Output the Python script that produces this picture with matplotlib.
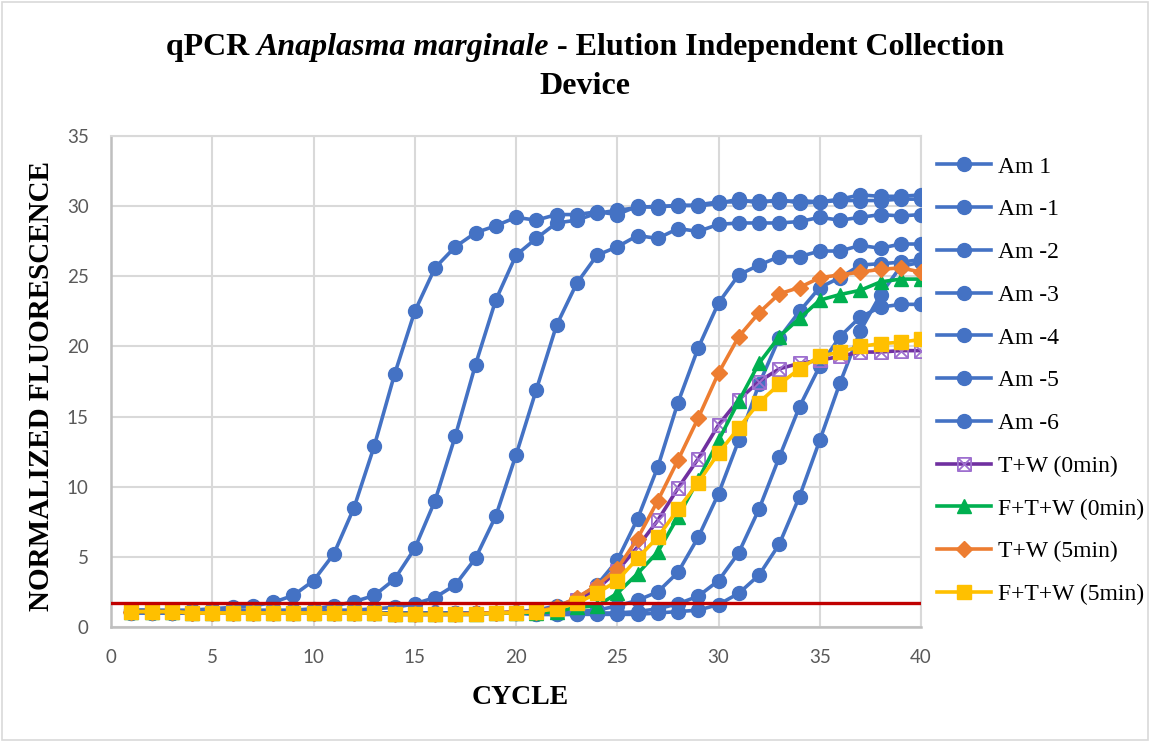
import numpy as np
import matplotlib
matplotlib.use("Agg")
import matplotlib.pyplot as plt
from matplotlib.path import Path
from matplotlib.patches import Rectangle

cycles = np.arange(1, 41)

am_1 = [1.2, 1.2, 1.2, 1.2, 1.3, 1.4, 1.5, 1.75, 2.25, 3.3,
        5.2, 8.5, 12.9, 18.0, 22.5, 25.6, 27.1, 28.1, 28.6, 29.2,
        29.0, 29.4, 29.4, 29.6, 29.4, 30.0, 29.9, 30.1, 30.0, 30.2,
        30.5, 30.2, 30.5, 30.2, 30.3, 30.5, 30.8, 30.7, 30.7, 30.8]
am_m1 = [1.2, 1.2, 1.1, 1.1, 1.1, 1.2, 1.2, 1.2, 1.2, 1.3,
         1.5, 1.8, 2.25, 3.4, 5.6, 9.0, 13.6, 18.7, 23.3, 26.5,
         27.7, 28.8, 29.0, 29.5, 29.7, 29.9, 30.0, 30.0, 30.1, 30.3,
         30.3, 30.4, 30.3, 30.4, 30.3, 30.4, 30.4, 30.4, 30.5, 30.5]
am_m2 = [1.1, 1.1, 1.1, 1.0, 1.0, 1.1, 1.1, 1.1, 1.1, 1.1,
         1.2, 1.2, 1.3, 1.4, 1.65, 2.1, 3.0, 4.9, 7.9, 12.25,
         16.9, 21.5, 24.5, 26.5, 27.1, 27.9, 27.7, 28.4, 28.2, 28.7,
         28.8, 28.8, 28.8, 28.9, 29.2, 29.0, 29.2, 29.4, 29.3, 29.4]
am_m3 = [1.1, 1.1, 1.0, 1.0, 1.0, 1.0, 1.0, 1.0, 1.0, 1.0,
         1.0, 1.0, 1.0, 1.0, 1.0, 1.0, 1.0, 1.0, 1.0, 1.1,
         1.2, 1.5, 2.0, 3.0, 4.75, 7.7, 11.4, 16.0, 19.9, 23.1,
         25.1, 25.8, 26.4, 26.4, 26.8, 26.8, 27.2, 27.0, 27.3, 27.3]
am_m4 = [1.1, 1.0, 1.0, 1.0, 1.0, 1.0, 1.0, 1.0, 1.0, 1.0,
         1.0, 1.0, 1.0, 1.0, 1.0, 1.0, 1.0, 1.0, 1.0, 1.0,
         1.0, 1.0, 1.1, 1.2, 1.5, 1.9, 2.5, 3.9, 6.4, 9.5,
         13.3, 17.3, 20.6, 22.5, 24.2, 24.9, 25.8, 25.9, 26.0, 26.2]
am_m5 = [1.0, 1.0, 1.0, 1.0, 1.0, 1.0, 1.0, 1.0, 1.0, 1.0,
         1.0, 1.0, 1.0, 1.0, 1.0, 1.0, 1.0, 1.0, 1.0, 1.0,
         0.9, 0.9, 0.9, 1.0, 1.0, 1.1, 1.3, 1.65, 2.2, 3.3,
         5.3, 8.4, 12.1, 15.7, 18.6, 20.7, 22.1, 22.8, 23.0, 23.0]
am_m6 = [1.0, 1.0, 1.0, 1.0, 1.0, 1.0, 1.0, 1.0, 1.0, 1.0,
         1.0, 1.0, 1.0, 1.0, 1.0, 1.0, 1.0, 1.0, 1.0, 1.0,
         0.9, 0.9, 0.9, 0.9, 0.9, 0.9, 1.0, 1.1, 1.2, 1.6,
         2.4, 3.7, 5.9, 9.3, 13.3, 17.4, 21.1, 23.7, 25.7, 26.0]
tw_0 = [1.1, 1.1, 1.1, 1.0, 1.0, 1.0, 1.0, 1.0, 1.0, 1.0,
        1.0, 1.0, 1.0, 0.9, 0.9, 0.9, 0.9, 0.9, 1.0, 1.0,
        1.1, 1.3, 1.9, 2.7, 4.0, 5.7, 7.6, 9.9, 12.0, 14.4,
        16.2, 17.5, 18.4, 18.8, 19.0, 19.3, 19.6, 19.6, 19.7, 19.7]
ftw_0 = [1.1, 1.1, 1.1, 1.0, 1.0, 1.0, 1.0, 1.0, 1.0, 1.0,
         1.0, 1.0, 1.0, 0.9, 0.9, 0.9, 0.9, 0.9, 1.0, 1.0,
         1.0, 1.1, 1.4, 1.5, 2.4, 3.8, 5.35, 7.85, 10.5, 13.3,
         16.1, 18.8, 20.7, 22.0, 23.3, 23.7, 24.0, 24.6, 24.8, 24.8]
tw_5 = [1.1, 1.1, 1.1, 1.0, 1.0, 1.0, 1.0, 1.0, 1.0, 1.0,
        1.0, 1.0, 1.0, 0.9, 0.9, 0.9, 0.9, 1.0, 1.0, 1.1,
        1.1, 1.4, 2.1, 2.95, 4.15, 6.3, 9.0, 11.9, 14.9, 18.1,
        20.7, 22.4, 23.75, 24.2, 24.9, 25.1, 25.3, 25.5, 25.6, 25.3]
ftw_5 = [1.1, 1.1, 1.1, 1.0, 1.0, 1.0, 1.0, 1.0, 1.0, 1.0,
         1.0, 1.0, 1.0, 0.9, 0.9, 0.9, 0.9, 0.9, 1.0, 1.0,
         1.1, 1.3, 1.7, 2.4, 3.3, 4.9, 6.4, 8.4, 10.3, 12.4,
         14.2, 16.0, 17.3, 18.4, 19.3, 19.6, 20.0, 20.2, 20.3, 20.5]
threshold = 1.7

blue_names = ["Am 1", "Am -1", "Am -2", "Am -3", "Am -4", "Am -5", "Am -6"]
blue_series = [am_1, am_m1, am_m2, am_m3, am_m4, am_m5, am_m6]

# square with an X inside, like the Excel marker
box_x = Path([(-1, -1), (1, -1), (1, 1), (-1, 1), (-1, -1),
              (-1, -1), (1, 1), (-1, 1), (1, -1)],
             [Path.MOVETO, Path.LINETO, Path.LINETO, Path.LINETO, Path.CLOSEPOLY,
              Path.MOVETO, Path.LINETO, Path.MOVETO, Path.LINETO])

serif = "Liberation Serif"

fig = plt.figure(figsize=(11.5, 7.42), dpi=100)
ax = fig.add_axes([111 / 1150, 1 - 627 / 742, 810 / 1150, 491 / 742])

blue = "#4472C4"
for name, vals in zip(blue_names, blue_series):
    ax.plot(cycles, vals, color=blue, lw=2.6, marker="o", ms=10,
            mfc=blue, mec=blue, label=name, zorder=3)

ax.plot(cycles, tw_0, color="#7030A0", lw=2.6, marker=box_x, ms=9.5,
        mfc="none", mec="#9E6FCF", mew=1.3, label="T+W (0min)", zorder=4)
ax.plot(cycles, ftw_0, color="#00B050", lw=2.6, marker="^", ms=10,
        mfc="#00B050", mec="#00B050", label="F+T+W (0min)", zorder=4)
ax.plot(cycles, tw_5, color="#ED7D31", lw=2.6, marker="D", ms=8.5,
        mfc="#ED7D31", mec="#ED7D31", label="T+W (5min)", zorder=4)
ax.plot(cycles, ftw_5, color="#FFC000", lw=2.6, marker="s", ms=10,
        mfc="#FFC000", mec="#FFC000", label="F+T+W (5min)", zorder=4)

ax.axhline(threshold, color="#C00000", lw=2.4, zorder=5)

ax.set_xlim(0, 40)
ax.set_ylim(0, 35)
ax.set_xticks(range(0, 41, 5))
ax.set_yticks(range(0, 36, 5))
ax.grid(True, color="#D9D9D9", lw=1.5, zorder=0)
ax.set_axisbelow(True)
ax.tick_params(length=0, labelsize=13.5, labelcolor="#595959", pad=16)
for lab in ax.get_xticklabels() + ax.get_yticklabels():
    lab.set_family("Lato")
for side in ["top", "right"]:
    ax.spines[side].set_color("#D9D9D9")
    ax.spines[side].set_linewidth(1.5)
for side in ["left", "bottom"]:
    ax.spines[side].set_color("#BFBFBF")
    ax.spines[side].set_linewidth(1.8)

fig.text(42 / 1150, 1 - 386 / 742, "NORMALIZED FLUORESCENCE", rotation=90,
         ha="center", va="center", family=serif, weight="bold", fontsize=21)
fig.text(520 / 1150, 1 - 697 / 742, "CYCLE", ha="center", va="center",
         family=serif, weight="bold", fontsize=20)

# title: mixed upright / italic pieces on the first line
parts = [("qPCR ", "normal"), ("Anaplasma marginale", "italic"),
         (" - Elution Independent Collection", "normal")]
renderer = fig.canvas.get_renderer()
pieces = []
for txt, style in parts:
    t = fig.text(0, 1 - 48 / 742, txt, family=serif, weight="bold",
                 style=style, fontsize=23, va="center", ha="left")
    pieces.append(t)
widths = [p.get_window_extent(renderer).width / 1150 for p in pieces]
x = 585 / 1150 - sum(widths) / 2
for p, w in zip(pieces, widths):
    p.set_x(x)
    x += w
fig.text(585 / 1150, 1 - 87 / 742, "Device", family=serif, weight="bold",
         fontsize=23, ha="center", va="center")

ax.legend(loc="upper left", bbox_to_anchor=(937 / 1150, 1 - 156 / 742),
          bbox_transform=fig.transFigure, frameon=False, borderpad=0,
          borderaxespad=0, handlelength=2.3, handletextpad=0.3,
          labelspacing=0.9, prop={"family": serif, "size": 17})

fig.patches.append(Rectangle((2 / 1150, 2 / 742), 1 - 4 / 1150, 1 - 4 / 742,
                             transform=fig.transFigure, fill=False,
                             edgecolor="#D9D9D9", lw=1.2))

fig.savefig("out.png", dpi=100)
